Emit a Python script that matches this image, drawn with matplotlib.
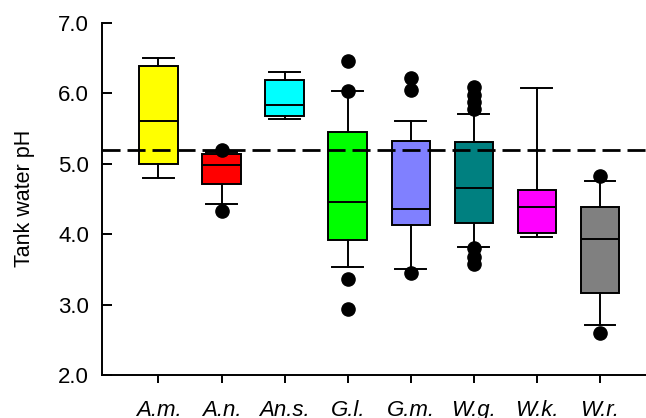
import matplotlib
matplotlib.use("Agg")
import matplotlib.pyplot as plt

plt.rcParams["font.family"] = ["Liberation Sans", "DejaVu Sans"]

species = ["A.m.", "A.n.", "An.s.", "G.l.", "G.m.", "W.g.", "W.k.", "W.r."]
colors = ["#ffff00", "#ff0000", "#00ffff", "#00ff00",
          "#8080ff", "#008080", "#ff00ff", "#808080"]

whislo = [4.80, 4.43, 5.63, 3.53, 3.51, 3.81, 3.96, 2.71]
q1 = [4.99, 4.71, 5.67, 3.91, 4.13, 4.16, 4.01, 3.17]
med = [5.60, 4.98, 5.83, 4.45, 4.35, 4.65, 4.39, 3.93]
q3 = [6.38, 5.13, 6.18, 5.45, 5.32, 5.30, 4.62, 4.38]
whishi = [6.50, 5.16, 6.30, 6.03, 5.60, 5.70, 6.08, 4.75]
fliers = [
    [],
    [5.20, 4.33],
    [],
    [6.46, 6.03, 3.36, 2.94],
    [6.22, 6.04, 3.45],
    [6.09, 5.98, 5.88, 5.77, 3.80, 3.68, 3.58],
    [],
    [4.83, 2.60],
]
ref_ph = 5.2
yticks = [2.0, 3.0, 4.0, 5.0, 6.0, 7.0]

stats = []
for i, name in enumerate(species):
    stats.append(dict(label=name, whislo=whislo[i], q1=q1[i], med=med[i],
                      q3=q3[i], whishi=whishi[i], fliers=fliers[i]))

fig = plt.figure(figsize=(6.46, 4.18), dpi=100)
ax = fig.add_axes([0.1574, 0.1029, 0.8426, 0.8428])

lw = 1.4
bp = ax.bxp(
    stats, positions=range(1, 9), widths=0.61, capwidths=0.49,
    patch_artist=True,
    boxprops=dict(linewidth=lw, edgecolor="black"),
    medianprops=dict(color="black", linewidth=lw),
    whiskerprops=dict(color="black", linewidth=lw),
    capprops=dict(color="black", linewidth=lw),
    flierprops=dict(marker="o", markerfacecolor="black",
                    markeredgecolor="black", markersize=9.5),
)
for patch, c in zip(bp["boxes"], colors):
    patch.set_facecolor(c)

# reference pH line, drawn over the boxes
ax.axhline(ref_ph, color="black", linewidth=2.0, dashes=(6.5, 2.5),
           clip_on=False, zorder=5)

ax.set_xlim(0.1, 8.73)
ax.set_ylim(2.0, 7.0)
ax.set_yticks(yticks)
ax.set_yticklabels([f"{v:.1f}" for v in yticks])
ax.set_xticks(range(1, 9))
ax.set_xticklabels(species, fontstyle="italic", fontsize=16)

ax.tick_params(axis="y", direction="in", length=7, width=lw, pad=9,
               labelsize=16)
ax.tick_params(axis="x", direction="out", length=6, width=lw, pad=12)

ax.spines["top"].set_visible(False)
ax.spines["right"].set_visible(False)
ax.spines["left"].set_linewidth(lw)
ax.spines["bottom"].set_linewidth(lw)

ax.set_ylabel("Tank water pH", fontsize=15.5, labelpad=17)

fig.savefig("out.png", dpi=100)
